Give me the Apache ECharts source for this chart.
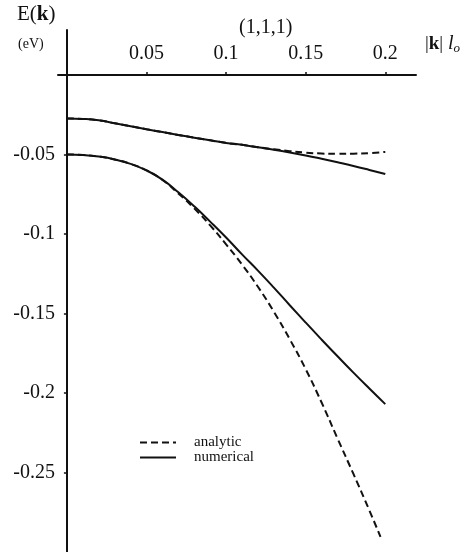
<!DOCTYPE html>
<html>
<head>
<meta charset="utf-8">
<script src="https://cdn.jsdelivr.net/npm/echarts@6/dist/echarts.min.js"></script>
<style>
  html, body { margin: 0; padding: 0; background: #fff; }
  #main { width: 474px; height: 552px; }
</style>
</head>
<body>
<div id="main"></div>
<script>
// |k| l_o grid
var kGrid = [0, 0.01, 0.02, 0.03, 0.04, 0.05, 0.06, 0.07, 0.08, 0.09, 0.1,
             0.11, 0.12, 0.13, 0.14, 0.15, 0.16, 0.17, 0.18, 0.19, 0.2];
var kLowAnalytic = [0, 0.01, 0.02, 0.03, 0.04, 0.05, 0.06, 0.07, 0.08, 0.09, 0.1,
             0.11, 0.12, 0.13, 0.14, 0.15, 0.16, 0.17, 0.18, 0.19, 0.197];

// upper band
var upperNumerical = [-0.0273, -0.0276, -0.0285, -0.0303, -0.0322, -0.0341, -0.0359, -0.0377, -0.0394, -0.0411, -0.0427,
                      -0.0439, -0.0455, -0.0470, -0.0487, -0.0506, -0.0527, -0.0549, -0.0572, -0.0597, -0.0623];
var upperAnalytic = [-0.0273, -0.0276, -0.0285, -0.0303, -0.0322, -0.0341, -0.0359, -0.0377, -0.0394, -0.0411, -0.0427,
                     -0.0439, -0.0454, -0.0467, -0.0479, -0.0488, -0.0494, -0.0496, -0.0495, -0.0491, -0.0484];
// lower band
var lowerNumerical = [-0.05, -0.0503, -0.0513, -0.0531, -0.0559, -0.0600, -0.0658, -0.0738, -0.0826, -0.0922, -0.1022,
                      -0.1128, -0.1230, -0.1337, -0.1448, -0.1557, -0.1664, -0.1769, -0.1872, -0.1972, -0.2070];
var lowerAnalytic = [-0.05, -0.0503, -0.0513, -0.0531, -0.0559, -0.0600, -0.0660, -0.0745, -0.0839, -0.0946, -0.1065,
                     -0.1192, -0.1332, -0.1489, -0.1662, -0.1850, -0.2060, -0.2286, -0.2509, -0.2738, -0.2905];

var xTicks = [0.05, 0.1, 0.15, 0.2];
var yTicks = [-0.05, -0.1, -0.15, -0.2, -0.25];

function pairs(xs, ys) {
    var out = [];
    for (var i = 0; i < xs.length; i++) {
        out.push([xs[i], ys[i]]);
    }
    return out;
}

var serif = 'Liberation Serif';
var ink = '#111';

var myChart = echarts.init(document.getElementById('main'));

function curve(name, data, dashed) {
    return {
        name: name,
        type: 'line',
        data: data,
        smooth: true,
        symbol: 'none',
        silent: true,
        lineStyle: { color: ink, width: 2, type: dashed ? [7, 4] : 'solid' },
        itemStyle: { color: ink }
    };
}

var option = {
    animation: false,
    backgroundColor: '#fff',
    grid: { left: 58, right: 58, top: 30, bottom: 0 },
    xAxis: {
        type: 'value',
        position: 'top',
        min: -0.0056,
        max: 0.2193,
        axisLine: { onZero: true, lineStyle: { color: ink, width: 2 } },
        axisTick: { show: true, length: 3, customValues: xTicks, lineStyle: { color: ink, width: 1.5 } },
        axisLabel: {
            customValues: xTicks,
            inside: true,
            margin: 14,
            fontFamily: serif,
            fontSize: 20,
            color: ink,
            formatter: function (v) { return String(+v.toFixed(2)); }
        },
        splitLine: { show: false }
    },
    yAxis: {
        type: 'value',
        position: 'left',
        min: -0.3,
        max: 0.0283,
        axisLine: { onZero: true, lineStyle: { color: ink, width: 2 } },
        axisTick: { show: true, length: 3, customValues: yTicks, lineStyle: { color: ink, width: 1.5 } },
        axisLabel: {
            customValues: yTicks,
            margin: 3,
            fontFamily: serif,
            fontSize: 20,
            color: ink,
            formatter: function (v) { return String(+v.toFixed(2)); }
        },
        splitLine: { show: false }
    },
    legend: {
        data: ['analytic', 'numerical'],
        orient: 'vertical',
        left: 134,
        top: 430,
        itemWidth: 36,
        itemHeight: 12,
        itemGap: 0,
        selectedMode: false,
        itemStyle: { opacity: 0 },
        textStyle: { fontFamily: serif, fontSize: 15, lineHeight: 14, color: ink, padding: [0, 0, 0, 13] }
    },
    graphic: [
        {
            type: 'text', left: 17, top: 4,
            style: {
                text: 'E({b|k})',
                rich: { b: { fontWeight: 'bold', fontFamily: serif, fontSize: 21, fill: ink } },
                fontFamily: serif, fontSize: 21, fill: ink
            }
        },
        {
            type: 'text', left: 18, top: 37,
            style: { text: '(eV)', fontFamily: serif, fontSize: 14, fill: ink }
        },
        {
            type: 'text', left: 239, top: 18,
            style: { text: '(1,1,1)', fontFamily: serif, fontSize: 20, fill: ink }
        },
        {
            type: 'text', left: 425, top: 34,
            style: {
                text: '|{b|k}| {i|l}{s|o}',
                rich: {
                    b: { fontWeight: 'bold', fontFamily: serif, fontSize: 19, fill: ink },
                    i: { fontStyle: 'italic', fontFamily: serif, fontSize: 20, fill: ink },
                    s: { fontStyle: 'italic', fontFamily: serif, fontSize: 13, fill: ink, padding: [10, 0, 0, 0] }
                },
                fontFamily: serif, fontSize: 19, fill: ink
            }
        }
    ],
    series: [
        curve('numerical', pairs(kGrid, upperNumerical), false),
        curve('analytic', pairs(kGrid, upperAnalytic), true),
        curve('numerical', pairs(kGrid, lowerNumerical), false),
        curve('analytic', pairs(kLowAnalytic, lowerAnalytic), true)
    ]
};

myChart.setOption(option);
</script>
</body>
</html>
